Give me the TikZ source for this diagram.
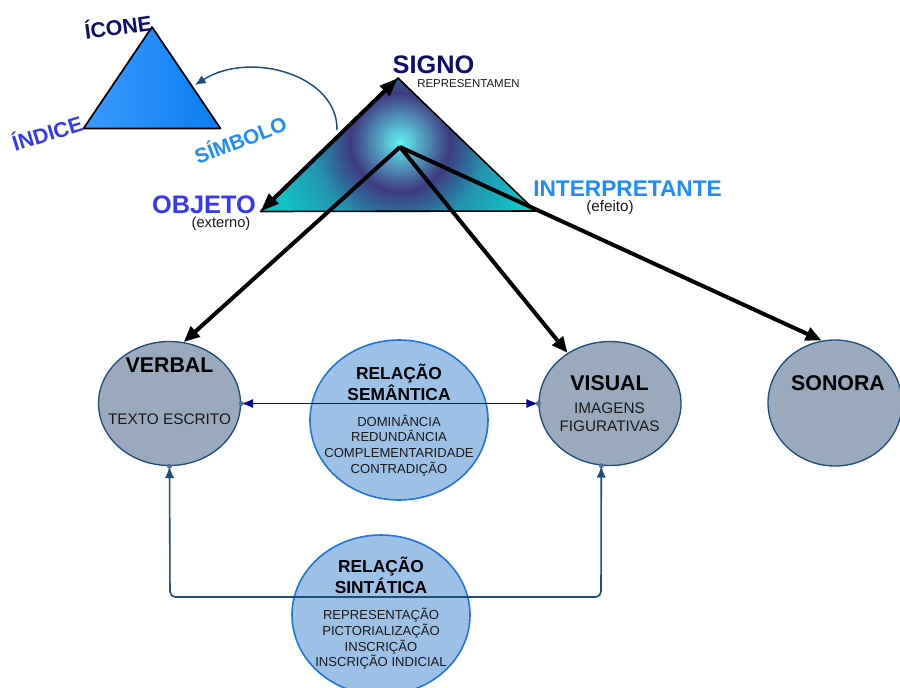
\documentclass[tikz,border=0pt]{standalone}
\usepackage{fontspec}
\setmainfont{Liberation Sans}
\usetikzlibrary{arrows.meta,shapes.geometric}
\definecolor{cyanc}{HTML}{62F2F4}
\definecolor{ringc}{HTML}{3E3A80}
\definecolor{midc}{HTML}{2392AE}
\definecolor{tealc}{HTML}{12C4C6}
\definecolor{smallA}{HTML}{3A9BFF}
\definecolor{smallB}{HTML}{0A7CEE}
\definecolor{navytxt}{HTML}{0E0E6C}
\definecolor{violettxt}{HTML}{3838F0}
\definecolor{dodgertxt}{HTML}{1E8CFF}
\definecolor{catfill}{HTML}{9AA9BC}
\definecolor{catborder}{HTML}{1F4E79}
\definecolor{relfill}{HTML}{9DC0E6}
\definecolor{relborder}{HTML}{2274D6}
\definecolor{semline}{HTML}{0A0A90}
\definecolor{synline}{HTML}{1F4E79}
\definecolor{itemtxt}{HTML}{1A1A1A}
\pgfdeclareradialshading{signshade}{\pgfpoint{0bp}{0bp}}{color(0bp)=(cyanc); color(7.5bp)=(ringc); color(13bp)=(midc); color(20bp)=(tealc); color(50bp)=(tealc)}
\begin{document}
\begin{tikzpicture}[x=0.75pt,y=-0.75pt,
  txt/.style={anchor=base,inner sep=0pt},
  hd/.style={txt,font=\bfseries\fontsize{16}{19}\selectfont,text=black},
  relhd/.style={txt,font=\bfseries\fontsize{13}{15}\selectfont,text=black},
  item/.style={txt,font=\fontsize{9.8}{12}\selectfont,text=itemtxt},
  sub/.style={txt,font=\fontsize{11.5}{14}\selectfont,text=itemtxt},
  rot/.style={inner sep=0pt},
  catell/.style={ellipse,draw=catborder,line width=1pt,fill=catfill,inner sep=0pt,minimum width=106.5pt,minimum height=93pt},
  relell/.style={ellipse,draw=relborder,line width=1.2pt,fill=relfill,inner sep=0pt,minimum width=133.5pt,minimum height=120pt},
  bigarrow/.style={line width=3pt,draw=black,-{Triangle[length=12pt,width=10pt]}},
  semarrow/.style={line width=1.1pt,draw=semline,{Latex[length=9pt,width=7pt]}-{Latex[length=9pt,width=7pt]}},
  synarrow/.style={line width=1.2pt,draw=synline,rounded corners=4pt,{Latex[length=9pt,width=7pt]}-{Latex[length=9pt,width=7pt]}},
  symarrow/.style={line width=1.1pt,draw=synline,-{Latex[length=8pt,width=7pt]}},
  dot/.style={fill=catborder!60!catfill}
]
\useasboundingbox (0,0) rectangle (900,687);

% ---------- small triangle ----------
\coordinate (tApex) at (152,27);
\coordinate (tLeft) at (83.5,128.5);
\coordinate (tRight) at (220.5,128.5);
\shade[left color=smallA,right color=smallB,draw=black,line width=1.3pt,line join=round]
  (tLeft) -- (tApex) -- (tRight) -- cycle;
\node[rot,rotate=7.6,text=navytxt,font=\bfseries\fontsize{16}{19}\selectfont] (icone) at (118,26) {ÍCONE};
\node[rot,rotate=17,text=violettxt,font=\bfseries\fontsize{16}{19}\selectfont] (indice) at (47,132) {ÍNDICE};
\node[rot,rotate=21,text=dodgertxt,font=\bfseries\fontsize{15.5}{18}\selectfont] (simbolo) at (240,139) {SÍMBOLO};

% ---------- big triangle ----------
\coordinate (sApex) at (398,78);
\coordinate (sLeft) at (260.5,211.5);
\coordinate (sRight) at (535.5,211);
\coordinate (sCenter) at (400,147);
\begin{scope}
  \clip (sLeft) -- (sApex) -- (sRight) -- cycle;
  \shade[shading=signshade] (400,142) circle (165);
\end{scope}
\draw[line width=1.2pt,line join=round] (sLeft) -- (sApex) -- (sRight) -- cycle;

\node[txt,text=navytxt,font=\bfseries\fontsize{19}{22}\selectfont] (signo) at (433.5,73.5) {SIGNO};
\node[txt,text=itemtxt,font=\fontsize{8.6}{10}\selectfont] (repr) at (468.5,87.5) {REPRESENTAMEN};
\node[txt,text=violettxt,font=\bfseries\fontsize{19}{22}\selectfont] (objeto) at (204,213) {OBJETO};
\node[txt,text=itemtxt,font=\fontsize{11}{13}\selectfont] (externo) at (221,227) {(externo)};
\node[txt,text=dodgertxt,font=\bfseries\fontsize{17}{20}\selectfont] (interp) at (627.5,196) {INTERPRETANTE};
\node[txt,text=itemtxt,font=\fontsize{11.4}{13}\selectfont] (efeito) at (610,211.5) {(efeito)};

% ---------- relation ellipses ----------
\node[relell] (sem) at (399,420) {};
\node[relell] (sin) at (381,615) {};

% ---------- category ellipses ----------
\node[catell] (verbal) at (169.5,403.5) {};
\node[catell] (visual) at (610,403.5) {};
\node[catell,minimum width=100.5pt,minimum height=94.5pt] (sonora) at (835,403) {};

% ---------- texts in ellipses ----------
\node[hd] at (169.5,372) {VERBAL};
\node[sub] at (169.5,424) {TEXTO ESCRITO};
\node[hd] at (609.5,390) {VISUAL};
\node[sub] at (609.5,413) {IMAGENS};
\node[sub] at (609.5,431.5) {FIGURATIVAS};
\node[hd] at (838,390) {SONORA};

\node[relhd] at (399,379) {RELAÇÃO};
\node[relhd] at (399,400) {SEMÂNTICA};
\node[item] at (399,426) {DOMINÂNCIA};
\node[item] at (399,441.7) {REDUNDÂNCIA};
\node[item] at (399,457.4) {COMPLEMENTARIDADE};
\node[item] at (399,473) {CONTRADIÇÃO};

\node[relhd] at (381,572) {RELAÇÃO};
\node[relhd] at (381,593) {SINTÁTICA};
\node[item] at (381,619.3) {REPRESENTAÇÃO};
\node[item] at (381,635.3) {PICTORIALIZAÇÃO};
\node[item] at (381,651) {INSCRIÇÃO};
\node[item] at (381,666.7) {INSCRIÇÃO INDICIAL};

% ---------- connectors ----------
\draw[line width=3pt,{Triangle[length=14pt,width=10pt]}-{Triangle[length=14pt,width=10pt]}] (sLeft) -- (sApex);
\draw[bigarrow] (sCenter) -- (verbal.77);
\draw[bigarrow] (sCenter) -- (visual.130);
\draw[bigarrow] (sCenter) -- (sonora.102);

\coordinate (symStart) at (337,130);
\coordinate (symEnd) at (195,85);
\draw[symarrow] (symStart) .. controls (338,75) and (250,50) .. (symEnd);

\draw[semarrow] (verbal.east) -- (visual.west);
\coordinate (synL) at (170,597);
\coordinate (synR) at (601,597);
\draw[synarrow] (verbal.south) -- (synL) -- (synR) -- (visual.262);

\fill[dot] (verbal.east) circle (2.5);
\fill[dot] (visual.west) circle (2.5);
\fill[dot] (verbal.south) circle (2.5);
\fill[dot] (visual.262) circle (2.5);
\end{tikzpicture}
\end{document}
